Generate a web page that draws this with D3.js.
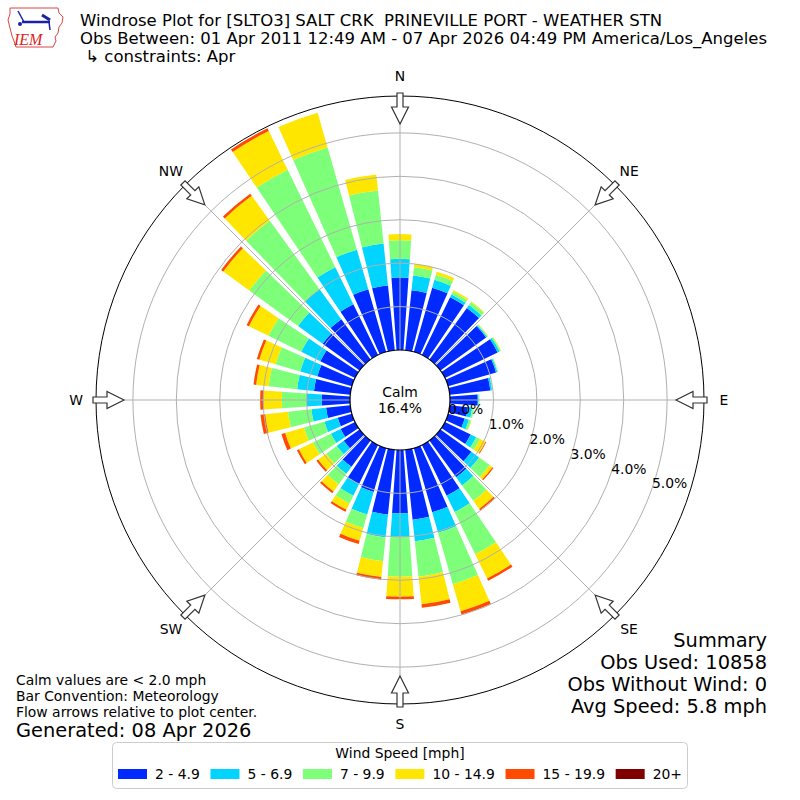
<!DOCTYPE html>
<html>
<head>
<meta charset="utf-8">
<script src="https://cdn.jsdelivr.net/npm/d3@7/dist/d3.min.js"></script>
<style>
  body { margin: 0; background: #fff; }
  text { font-family: "DejaVu Sans", sans-serif; fill: #000; white-space: pre; }
</style>
</head>
<body>
<div id="chart"></div>
<script>
// wind directions (degrees, meteorological)
const directions = [0, 10, 20, 30, 40, 50, 60, 70, 80, 90, 100, 110, 120, 130, 140, 150, 160, 170,
                    180, 190, 200, 210, 220, 230, 240, 250, 260, 270, 280, 290, 300, 310, 320, 330, 340, 350];

const speedBins = ['2 - 4.9', '5 - 6.9', '7 - 9.9', '10 - 14.9', '15 - 19.9', '20+'];
const binColors = ['#002aff', '#00d4ff', '#7dff7a', '#ffe600', '#ff4a00', '#800000'];

// frequency [%] per direction, one array per speed bin
const freq2to5 = [1.67, 1.39, 1.54, 1.48, 1.47, 1.30, 1.35, 1.15, 0.94, 0.64, 0.42, 0.40, 0.66, 0.88, 1.05, 1.30, 1.54, 1.62,
                  1.46, 1.50, 1.05, 1.00, 0.75, 0.45, 0.37, 0.34, 0.56, 0.65, 0.84, 0.83, 0.89, 1.05, 1.15, 1.30, 1.50, 1.50];
const freq5to7 = [0.43, 0.34, 0.19, 0.07, 0.08, 0.03, 0.05, 0.03, 0.04, 0.02, 0.10, 0.10, 0.14, 0.22, 0.23, 0.42, 0.49, 0.50,
                  0.54, 0.53, 0.54, 0.30, 0.20, 0.20, 0.25, 0.32, 0.34, 0.35, 0.39, 0.41, 0.49, 0.70, 0.85, 0.95, 0.95, 0.97];
const freq7to10 = [0.43, 0.19, 0.12, 0.07, 0.08, 0.02, 0.03, 0.02, 0.01, 0.02, 0.04, 0.05, 0.10, 0.30, 0.44, 1.08, 1.23, 0.82,
                   0.92, 0.55, 0.33, 0.20, 0.30, 0.30, 0.46, 0.49, 0.54, 0.57, 0.66, 0.59, 0.84, 1.39, 1.95, 2.50, 2.45, 1.23];
const freq10to15 = [0.14, 0.08, 0.07, 0.04, 0.02, 0.01, 0.01, 0.00, 0.00, 0.00, 0.00, 0.01, 0.14, 0.08, 0.23, 0.62, 0.65, 0.64,
                    0.46, 0.37, 0.30, 0.16, 0.20, 0.23, 0.36, 0.45, 0.53, 0.43, 0.29, 0.39, 0.50, 0.74, 0.71, 0.99, 0.83, 0.37];
const freq15to20 = [0.00, 0.00, 0.00, 0.00, 0.00, 0.00, 0.00, 0.00, 0.00, 0.00, 0.00, 0.00, 0.02, 0.03, 0.04, 0.06, 0.08, 0.08,
                    0.06, 0.06, 0.08, 0.05, 0.05, 0.05, 0.05, 0.09, 0.11, 0.07, 0.06, 0.06, 0.06, 0.06, 0.06, 0.07, 0.00, 0.00];
const freq20up = [0, 0, 0, 0, 0, 0, 0, 0, 0, 0, 0, 0, 0, 0, 0, 0, 0, 0,
                  0, 0, 0, 0, 0, 0, 0, 0, 0, 0, 0, 0, 0, 0, 0, 0, 0, 0];

const ringTicks = [0, 1, 2, 3, 4, 5];
const compassNames = ['N', 'NE', 'E', 'SE', 'S', 'SW', 'W', 'NW'];
const compassAngles = [0, 45, 90, 135, 180, 225, 270, 315];

const calmPct = 16.4;
const titleLines = [
  'Windrose Plot for [SLTO3] SALT CRK  PRINEVILLE PORT - WEATHER STN',
  'Obs Between: 01 Apr 2011 12:49 AM - 07 Apr 2026 04:49 PM America/Los_Angeles',
  ' \u21b3 constraints: Apr'
];
const summaryLines = ['Summary', 'Obs Used: 10858', 'Obs Without Wind: 0', 'Avg Speed: 5.8 mph'];
const noteLines = ['Calm values are < 2.0 mph', 'Bar Convention: Meteorology', 'Flow arrows relative to plot center.'];
const generatedText = 'Generated: 08 Apr 2026';

const width = 800, height = 800;
const cx = 400, cy = 400;
const outerR = 304;
const rad = Math.PI / 180;
const smallFont = '13.9px';

const svg = d3.select('#chart').append('svg')
  .attr('width', width)
  .attr('height', height);

svg.append('rect').attr('width', width).attr('height', height).attr('fill', '#fff');

// radial scale, offset by the calm circle
const rScale = d3.scaleLinear().domain([0, 5.85]).range([50, outerR]);

const series = [freq2to5, freq5to7, freq7to10, freq10to15, freq15to20, freq20up];
const rows = directions.map((d, i) => {
  const row = { dir: d };
  series.forEach((s, k) => { row['b' + k] = s[i]; });
  return row;
});
const keys = series.map((s, k) => 'b' + k);
const stacked = d3.stack().keys(keys)(rows);

const plot = svg.append('g').attr('transform', `translate(${cx},${cy})`);

// bars
const barHalf = 4; // degrees
const arc = d3.arc()
  .innerRadius(d => rScale(d[0]))
  .outerRadius(d => rScale(d[1]))
  .startAngle(d => (d.data.dir - barHalf) * rad)
  .endAngle(d => (d.data.dir + barHalf) * rad);

stacked.forEach((layer, k) => {
  plot.append('g')
    .selectAll('path')
    .data(layer.filter(d => d[1] - d[0] > 0))
    .enter().append('path')
    .attr('d', arc)
    .attr('fill', binColors[k]);
});

// grid on top of bars
const grid = plot.append('g');
grid.selectAll('circle.ring')
  .data(ringTicks.filter(t => t > 0))
  .enter().append('circle')
  .attr('r', d => rScale(d))
  .attr('fill', 'none')
  .attr('stroke', '#b0b0b0')
  .attr('stroke-width', 1);

grid.selectAll('line.spoke')
  .data(compassAngles)
  .enter().append('line')
  .attr('x1', 0).attr('y1', 0)
  .attr('x2', d => outerR * Math.sin(d * rad))
  .attr('y2', d => -outerR * Math.cos(d * rad))
  .attr('stroke', '#b0b0b0')
  .attr('stroke-width', 1);

plot.append('circle')
  .attr('r', outerR)
  .attr('fill', 'none')
  .attr('stroke', '#000')
  .attr('stroke-width', 1);

// flow arrows
const arrowPts = [[0, -276], [8.5, -293], [3, -293], [3, -307], [-3, -307], [-3, -293], [-8.5, -293]];
plot.selectAll('path.arrow')
  .data(compassAngles)
  .enter().append('path')
  .attr('d', d3.line()(arrowPts) + 'Z')
  .attr('transform', d => `rotate(${d})`)
  .attr('fill', '#fff')
  .attr('stroke', '#333')
  .attr('stroke-width', 1.2)
  .attr('stroke-linejoin', 'miter');

// direction labels
plot.selectAll('text.dir')
  .data(compassAngles)
  .enter().append('text')
  .attr('x', d => 324 * Math.sin(d * rad))
  .attr('y', d => -324 * Math.cos(d * rad))
  .attr('text-anchor', 'middle')
  .attr('dominant-baseline', 'central')
  .style('font-size', smallFont)
  .text((d, i) => compassNames[i]);

// calm circle
plot.append('circle')
  .attr('r', 50)
  .attr('fill', '#fff')
  .attr('stroke', '#000')
  .attr('stroke-width', 1.2);

plot.append('text')
  .attr('y', -8).attr('text-anchor', 'middle').attr('dominant-baseline', 'central')
  .style('font-size', smallFont).text('Calm');
plot.append('text')
  .attr('y', 8).attr('text-anchor', 'middle').attr('dominant-baseline', 'central')
  .style('font-size', smallFont).text(calmPct.toFixed(1) + '%');

// ring labels
const labAng = 20 * rad;
plot.selectAll('text.rlab')
  .data(ringTicks)
  .enter().append('text')
  .attr('x', d => rScale(d) * Math.cos(labAng) + 1)
  .attr('y', d => rScale(d) * Math.sin(labAng) - 8)
  .attr('dominant-baseline', 'central')
  .style('font-size', smallFont)
  .text(d => d.toFixed(1) + '%');

// title
svg.selectAll('text.title')
  .data(titleLines)
  .enter().append('text')
  .attr('x', 80)
  .attr('y', (d, i) => 25.5 + i * 18)
  .style('font-size', '16.5px')
  .text(d => d);

// logo
const logo = svg.append('g');
const iowa = [[10, 8], [58, 8], [59, 13], [63, 17], [62, 23], [59, 27], [58, 33], [55, 37], [56, 41], [53, 47],
              [16, 47], [14, 41], [12, 36], [10, 28], [8, 20], [10, 14]];
logo.append('path')
  .attr('d', d3.line()(iowa) + 'Z')
  .attr('fill', '#fff')
  .attr('stroke', '#d44')
  .attr('stroke-width', 1);
logo.append('line').attr('x1', 22).attr('y1', 22).attr('x2', 50).attr('y2', 22)
  .attr('stroke', '#1a22aa').attr('stroke-width', 2.5);
logo.append('line').attr('x1', 18).attr('y1', 11).attr('x2', 24).attr('y2', 22)
  .attr('stroke', '#1a22aa').attr('stroke-width', 1.5);
logo.append('line').attr('x1', 42).attr('y1', 15).attr('x2', 50).attr('y2', 20)
  .attr('stroke', '#1a22aa').attr('stroke-width', 3);
logo.append('circle').attr('cx', 20).attr('cy', 24).attr('r', 2).attr('fill', '#1a22aa');
logo.append('line').attr('x1', 49).attr('y1', 22).attr('x2', 50).attr('y2', 30)
  .attr('stroke', '#1a22aa').attr('stroke-width', 1.5);
logo.append('text')
  .attr('x', 14).attr('y', 45)
  .style('font-family', '"Liberation Serif", serif')
  .style('font-style', 'italic')
  .style('font-size', '16px')
  .style('fill', '#d22')
  .text('IEM');

// summary
svg.selectAll('text.summary')
  .data(summaryLines)
  .enter().append('text')
  .attr('x', 767)
  .attr('y', (d, i) => 647 + i * 22)
  .attr('text-anchor', 'end')
  .style('font-size', '19.4px')
  .text(d => d);

// notes
svg.selectAll('text.note')
  .data(noteLines)
  .enter().append('text')
  .attr('x', 16)
  .attr('y', (d, i) => 685 + i * 16)
  .style('font-size', smallFont)
  .text(d => d);
svg.append('text')
  .attr('x', 16).attr('y', 737)
  .style('font-size', '19.4px')
  .text(generatedText);

// legend
const legend = svg.append('g');
legend.append('rect')
  .attr('x', 112.5).attr('y', 742.5).attr('width', 575).attr('height', 46).attr('rx', 4)
  .attr('fill', '#fff').attr('stroke', '#ccc');
legend.append('text')
  .attr('x', 400).attr('y', 758)
  .attr('text-anchor', 'middle')
  .style('font-size', smallFont)
  .text('Wind Speed [mph]');

const handleW = 29, handlePad = 8;
const items = legend.selectAll('g.item')
  .data(speedBins)
  .enter().append('g');
items.append('rect')
  .attr('width', handleW).attr('height', 10).attr('y', 769)
  .attr('fill', (d, i) => binColors[i]);
items.append('text')
  .attr('x', handleW + handlePad).attr('y', 779)
  .style('font-size', smallFont)
  .text(d => d);
const widths = [];
items.each(function () {
  widths.push(handleW + handlePad + d3.select(this).select('text').node().getComputedTextLength());
});
const innerL = 118, innerR = 682;
const gap = (innerR - innerL - d3.sum(widths)) / (widths.length - 1);
let xPos = innerL;
items.each(function (d, i) {
  d3.select(this).attr('transform', `translate(${xPos},0)`);
  xPos += widths[i] + gap;
});
</script>
</body>
</html>
